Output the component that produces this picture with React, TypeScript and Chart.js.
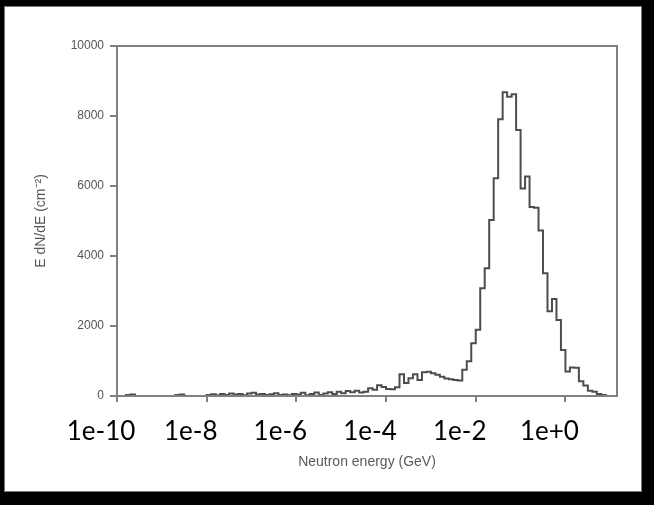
import React, { useEffect, useRef } from "react";
import { Chart, registerables } from "chart.js";

Chart.register(...registerables);

// Log-binned neutron spectrum: 10 bins per decade starting at 1e-10 GeV
const LOG_E_MIN = -10;
const BINS_PER_DECADE = 10;
const LOG_E_MAX = 1.15;

// E dN/dE per bin (cm^-2)
const COUNTS_LOW = [
  0, 0, 30, 40, 0, 0, 0, 0, 0, 0,
  0, 0, 0, 30, 40, 0, 0, 0, 0, 0,
  30, 50, 20, 60, 30, 70, 40, 60, 20, 70,
  90, 40, 60, 30, 50, 80, 30, 40, 20, 60,
  40, 90, 20, 60, 100, 30, 70, 110, 60, 120,
  80, 140, 110, 150, 100,
];
const COUNTS_MID = [
  120, 220, 180, 310, 260, 200, 190, 250,
  620, 370, 505, 620, 460, 680, 690, 650, 610, 550,
  500, 480, 460, 440, 750, 990, 1505, 1895, 3076, 3648,
];
const COUNTS_PEAK = [
  5030, 6220, 7910, 8680, 8550, 8620, 7600, 5930, 6270, 5400,
  5380, 4730, 3505, 2420, 2770, 2170, 1314, 700, 815, 810,
];
const COUNTS_TAIL = [420, 300, 150, 120, 60, 30, 0, 0, 0];
const COUNTS = [...COUNTS_LOW, ...COUNTS_MID, ...COUNTS_PEAK, ...COUNTS_TAIL];

const X_TICKS = [1e-10, 1e-8, 1e-6, 1e-4, 1e-2, 1];
const X_TICK_LABELS = ["1e-10", "1e-8", "1e-6", "1e-4", "1e-2", "1e+0"];
const Y_MAX = 10000;
const Y_STEP = 2000;

const X_TITLE = "Neutron energy (GeV)";
const Y_TITLE = "E dN/dE (cm\u207B\u00B2)";

const AXIS_GREY = "#808080";

// Step outline: each point sits on a bin's lower edge, plus the closing edge.
function histogramPoints() {
  const pts = COUNTS.map((v, i) => ({
    x: Math.pow(10, LOG_E_MIN + i / BINS_PER_DECADE),
    y: v,
  }));
  pts.push({
    x: Math.pow(10, LOG_E_MIN + COUNTS.length / BINS_PER_DECADE),
    y: COUNTS[COUNTS.length - 1],
  });
  return pts;
}

const frameBox = {
  id: "frameBox",
  afterDraw(chart: any) {
    const { ctx, chartArea } = chart;
    ctx.save();
    ctx.strokeStyle = AXIS_GREY;
    ctx.lineWidth = 2;
    ctx.strokeRect(
      chartArea.left,
      chartArea.top,
      chartArea.right - chartArea.left,
      chartArea.bottom - chartArea.top
    );
    ctx.restore();
  },
};

export default function App() {
  const canvasRef = useRef<HTMLCanvasElement | null>(null);

  useEffect(() => {
    const canvas = canvasRef.current;
    if (!canvas) return;
    const chart = new Chart(canvas, {
      type: "line",
      data: {
        datasets: [
          {
            data: histogramPoints(),
            stepped: "before",
            borderColor: "#4d4d4d",
            borderWidth: 2,
            pointRadius: 0,
            fill: false,
          },
        ],
      },
      options: {
        responsive: false,
        animation: false,
        layout: { padding: { top: 46, right: 37, left: 0, bottom: 0 } },
        plugins: {
          legend: { display: false },
          tooltip: { enabled: false },
        },
        scales: {
          x: {
            type: "logarithmic",
            min: Math.pow(10, LOG_E_MIN),
            max: Math.pow(10, LOG_E_MAX),
            afterBuildTicks: (scale: any) => {
              scale.ticks = X_TICKS.map((v) => ({ value: v }));
            },
            afterFit: (scale: any) => {
              scale.height = 109;
            },
            ticks: {
              autoSkip: false,
              maxRotation: 0,
              minRotation: 0,
              labelOffset: -16,
              padding: 14,
              color: "#000000",
              font: { family: "Lato", size: 26 },
              callback: (_v: any, i: number) => X_TICK_LABELS[i],
            },
            grid: {
              drawOnChartArea: false,
              drawTicks: true,
              tickLength: 6,
              color: AXIS_GREY,
              lineWidth: 2,
            },
            border: { display: true, color: AXIS_GREY, width: 2 },
            title: {
              display: true,
              text: X_TITLE,
              color: "#5a5a5a",
              font: { family: "Liberation Sans", size: 14 },
              padding: { top: 0, bottom: 34 },
            },
          },
          y: {
            type: "linear",
            min: 0,
            max: Y_MAX,
            afterFit: (scale: any) => {
              scale.width = 117;
            },
            ticks: {
              stepSize: Y_STEP,
              padding: 6,
              color: "#555555",
              font: { family: "Liberation Sans", size: 12 },
              callback: (v: any) => String(v),
            },
            grid: {
              drawOnChartArea: false,
              drawTicks: true,
              tickLength: 7,
              color: AXIS_GREY,
              lineWidth: 2,
            },
            border: { display: true, color: AXIS_GREY, width: 2 },
            title: {
              display: true,
              text: Y_TITLE,
              color: "#555555",
              font: { family: "Liberation Sans", size: 14 },
              padding: { top: 33, bottom: 0 },
            },
          },
        },
      },
      plugins: [frameBox],
    } as any);
    return () => chart.destroy();
  }, []);

  return (
    <div
      style={{
        position: "fixed",
        left: 0,
        top: 0,
        width: 654,
        height: 505,
        background: "#000",
      }}
    >
      <div
        style={{
          position: "absolute",
          left: 4,
          top: 6,
          width: 638,
          height: 486,
          background: "#fff",
          boxShadow: "inset 0 0 0 1px #777",
        }}
      />
      <canvas
        ref={canvasRef}
        width={654}
        height={505}
        style={{ position: "absolute", left: 0, top: 0 }}
      />
    </div>
  );
}
